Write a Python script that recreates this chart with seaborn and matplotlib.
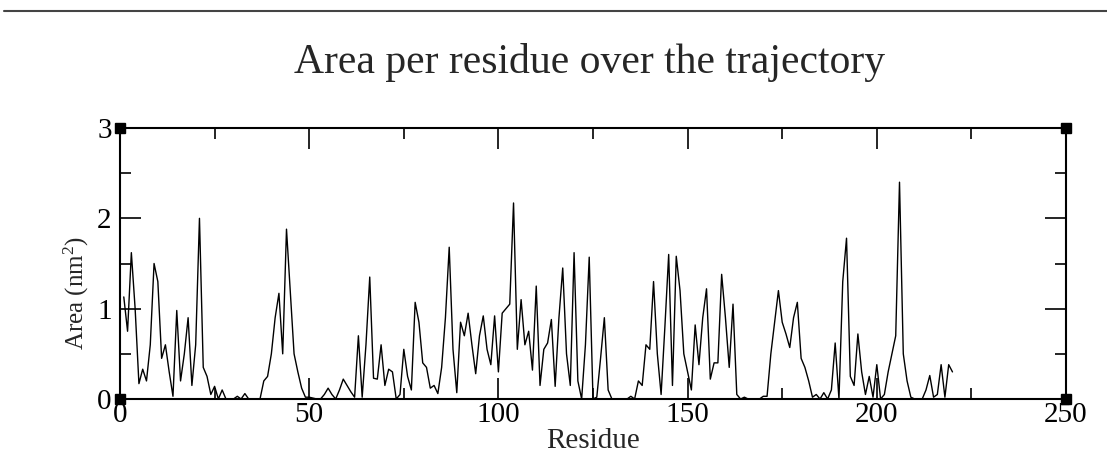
import numpy as np
import pandas as pd
import matplotlib
matplotlib.use('Agg')
import matplotlib.pyplot as plt
from matplotlib.lines import Line2D
import seaborn as sns

# area per residue (nm^2)
residue = list(range(1, 221))
area = [
    1.13, 0.75, 1.62, 1.00, 0.17, 0.33, 0.20, 0.60, 1.50, 1.30,
    0.45, 0.60, 0.30, 0.03, 0.98, 0.20, 0.50, 0.90, 0.15, 0.60,
    2.00, 0.35, 0.25, 0.05, 0.14, 0.00, 0.10, 0.00, 0.00, 0.00,
    0.03, 0.00, 0.06, 0.00, 0.00, 0.00, 0.00, 0.20, 0.25, 0.50,
    0.90, 1.17, 0.50, 1.88, 1.20, 0.50, 0.30, 0.12, 0.02, 0.02,
    0.01, 0.00, 0.00, 0.05, 0.12, 0.05, 0.00, 0.10, 0.22, 0.15,
    0.08, 0.02, 0.70, 0.02, 0.60, 1.35, 0.23, 0.22, 0.60, 0.15,
    0.33, 0.30, 0.00, 0.05, 0.55, 0.25, 0.10, 1.07, 0.85, 0.40,
    0.35, 0.12, 0.15, 0.06, 0.35, 0.90, 1.68, 0.55, 0.07, 0.85,
    0.70, 0.95, 0.60, 0.28, 0.70, 0.92, 0.55, 0.38, 0.92, 0.30,
    0.95, 1.00, 1.05, 2.17, 0.55, 1.10, 0.60, 0.75, 0.32, 1.25,
    0.15, 0.55, 0.62, 0.88, 0.14, 0.90, 1.45, 0.50, 0.15, 1.62,
    0.20, 0.00, 0.60, 1.57, 0.00, 0.02, 0.45, 0.90, 0.10, 0.00,
    0.00, 0.00, 0.00, 0.00, 0.03, 0.00, 0.20, 0.15, 0.60, 0.55,
    1.30, 0.50, 0.05, 0.80, 1.60, 0.15, 1.58, 1.20, 0.50, 0.30,
    0.10, 0.82, 0.38, 0.90, 1.22, 0.22, 0.40, 0.40, 1.38, 0.90,
    0.35, 1.05, 0.05, 0.00, 0.02, 0.00, 0.00, 0.00, 0.00, 0.03,
    0.03, 0.50, 0.85, 1.20, 0.85, 0.72, 0.57, 0.90, 1.07, 0.45,
    0.35, 0.20, 0.02, 0.05, 0.00, 0.07, 0.00, 0.10, 0.62, 0.00,
    1.30, 1.78, 0.25, 0.15, 0.72, 0.30, 0.05, 0.25, 0.02, 0.38,
    0.00, 0.05, 0.30, 0.50, 0.70, 2.40, 0.50, 0.20, 0.02, 0.00,
    0.00, 0.00, 0.10, 0.26, 0.02, 0.05, 0.38, 0.02, 0.38, 0.30,
]
xticks = [0, 50, 100, 150, 200, 250]
yticks = [0, 1, 2, 3]
xlim = (0, 250)
ylim = (0, 3)

df = pd.DataFrame({'Residue': residue, 'Area': area})

sns.set_theme(style='white')
plt.rcParams['font.family'] = ['Liberation Serif', 'DejaVu Serif']
plt.rcParams['mathtext.fontset'] = 'custom'
plt.rcParams['mathtext.rm'] = 'Liberation Serif'
plt.rcParams['mathtext.it'] = 'Liberation Serif:italic'

fig = plt.figure(figsize=(11.07, 4.66), dpi=100)
ax = fig.add_axes([120 / 1107, 1 - 399 / 466, 946 / 1107, 271 / 466])

sns.lineplot(data=df, x='Residue', y='Area', ax=ax, color='black', lw=1.0)

ax.set_xlim(*xlim)
ax.set_ylim(*ylim)
ax.set_xticks(xticks)
ax.set_yticks(yticks)
ax.set_xticks(np.arange(25, 250, 50), minor=True)
ax.set_yticks(np.arange(0.5, 3, 1.0), minor=True)
ax.tick_params(which='both', direction='in', top=True, right=True, left=True,
               bottom=True, color='black', width=1.2, labelsize=21, colors='black')
ax.tick_params(which='major', length=15)
ax.tick_params(which='minor', length=8)
ax.tick_params(axis='x', pad=2)
ax.tick_params(axis='y', pad=6)
for s in ax.spines.values():
    s.set_color('black')
    s.set_linewidth(1.5)

ax.set_xlabel('Residue', fontsize=21, labelpad=0)
ax.set_ylabel('Area (nm$^2$)', fontsize=18)
ax.yaxis.set_label_coords(-0.031, 0.39)

fig.text(590 / 1107, 1 - 63 / 466, 'Area per residue over the trajectory',
         ha='center', va='center', fontsize=30)

# the square handles at the corners of the frame
ax.plot([xlim[0], xlim[1], xlim[0], xlim[1]], [ylim[0], ylim[0], ylim[1], ylim[1]],
        's', color='black', ms=7, clip_on=False, zorder=5)

# window edge at the top
fig.add_artist(Line2D([4 / 1107, 1], [1 - 11 / 466] * 2, transform=fig.transFigure,
                      color='#444444', lw=1.5))

fig.savefig('out.png', dpi=100)
